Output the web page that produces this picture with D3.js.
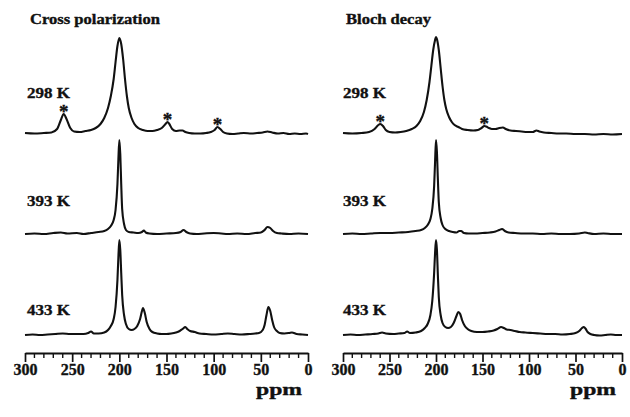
<!DOCTYPE html>
<html>
<head>
<meta charset="utf-8">
<script src="https://cdn.jsdelivr.net/npm/d3@7"></script>
<style>
  html, body { margin: 0; padding: 0; background: #fff; }
  svg { display: block; }
  text { font-family: "Liberation Serif", "Times New Roman", serif; font-weight: bold; fill: #111; stroke: #111; stroke-width: 0.35; }
</style>
</head>
<body>
<svg id="chart" width="630" height="417"></svg>
<script>
// ---- data -------------------------------------------------------------
const panelTitles = ["Cross polarization", "Bloch decay"];
const temperatures = ["298 K", "393 K", "433 K"];
const majorTicks = [300, 250, 200, 150, 100, 50, 0];
const minorTicks = [290, 280, 270, 260, 240, 230, 220, 210, 190, 180, 170, 160,
                    140, 130, 120, 110, 90, 80, 70, 60, 40, 30, 20, 10];

// [ppm, intensity] — cross polarization spectra
const cp298 = [[300,1],[290,0.5],[280,1],[272,1.5],[266,5],[262,14],[259,20],[256,15],[252,6],[248,2.5],
  [242,2],[236,3],[230,4],[225,6],[220,10],[216,16],[212,26],[209,38],[206,55],[204,72],[202,88],[200,96],
  [198,90],[196,75],[194,55],[192,38],[190,26],[187,16],[184,10],[180,6],[175,4],[170,3],[165,3],[160,4],
  [155,6],[151,10],[149,12],[147,10],[144,5],[140,3],[136,3.5],[133,3.5],[130,2],[126,1],[120,0.5],[114,0.5],
  [108,1],[103,2],[99,4],[96,7],[93,5],[90,2],[86,0.5],[80,0],[74,0.5],[68,1],[60,0.5],[54,1],[48,1.5],
  [43,2.5],[38,1.5],[32,0.5],[26,1],[20,0],[14,0.5],[8,0],[2,0.5],[0,0]];
const cp393 = [[300,0],[290,0.5],[280,0],[270,1],[262,1.5],[255,0.5],[245,1],[238,0],[230,1],[222,2],[216,3],
  [212,5],[209,8],[206,14],[204,24],[202,50],[201,75],[200,94],[199,80],[198,50],[197,25],[195,10],[193,4],
  [190,2],[185,1.5],[180,1],[176,2],[174,3.5],[172,1.5],[168,0.5],[160,0],[150,0.5],[140,1],[135,2],[132,4],
  [129,2],[125,0.5],[118,0],[110,0.5],[100,1],[92,0.5],[85,0],[75,0.5],[65,0],[56,1],[50,1.5],[46,4],[43,7],
  [40,6],[37,3],[33,1],[28,0.5],[20,0],[10,0.5],[0,0]];
const cp433 = [[300,0],[292,0.5],[284,0],[276,0.5],[268,1],[260,1.5],[252,1],[244,1],[238,1],[233,2],[230,3.5],
  [227,1.5],[222,1.5],[216,2.5],[212,5],[209,9],[206,16],[204,28],[202,55],[201,78],[200,95],[199,85],[198,62],
  [197,40],[195,20],[193,11],[190,6],[187,5],[184,6],[181,9],[178,16],[176,24],[175,27],[173,22],[171,13],
  [168,6],[165,3],[160,1.5],[155,1],[150,1],[145,1.5],[140,2.5],[136,4],[133,6],[130,8],[128,6],[125,4],
  [120,3],[115,1.5],[108,1],[100,0.5],[92,1],[85,1.5],[78,1],[70,0.5],[62,1],[56,1.5],[52,2],[48,5],[46,10],
  [44,20],[42,28],[40,24],[38,15],[36,8],[33,4],[30,2],[25,1.5],[20,2],[17,2.5],[12,1],[6,0.5],[0,0]];

// [ppm, intensity] — Bloch decay spectra
const bd298 = [[300,1],[290,0.5],[280,1],[272,2],[266,5],[262,9],[260,10],[257,8],[254,4],[250,2],[244,1.5],
  [238,2],[232,3],[226,5],[221,8],[217,13],[213,22],[210,34],[207,52],[205,68],[203,84],[201,94],[200,97],
  [199,95],[197,84],[195,66],[193,48],[191,34],[189,25],[186,17],[183,12],[180,9],[176,7],[172,5],[166,4],
  [160,3.5],[155,4],[151,6],[148,8],[146,7.5],[143,6],[140,5],[136,5],[132,6],[128,6.5],[125,5],[120,3.5],
  [114,3],[108,2.5],[102,2],[96,2],[92,3.5],[89,2.5],[84,1.5],[76,1],[68,0.5],[60,0.5],[50,0],[40,0],
  [30,-0.5],[20,0],[10,-0.5],[0,0]];
const bd393 = [[300,0],[290,0.5],[280,0],[270,0.5],[260,1],[250,1],[240,1.5],[230,2],[222,3],[216,4],[212,6],
  [209,9],[206,15],[204,25],[202,48],[201,72],[200,94],[199,82],[198,55],[197,32],[195,16],[193,9],[190,5],
  [186,3],[182,2],[178,1.5],[175,3],[173,3],[170,1],[165,0.5],[158,0.5],[150,1],[142,1.5],[136,2.5],[132,4],
  [129,5],[126,3],[122,1.5],[115,1],[106,0.5],[96,0.5],[86,0],[76,0.5],[66,0],[56,0],[46,0.5],[40,1.5],
  [37,1],[30,0],[20,0.5],[10,0],[0,0]];
const bd433 = [[300,0],[292,0.5],[284,0],[276,0.5],[268,1],[262,1.5],[258,2.5],[254,1.5],[246,1],[240,1.5],
  [234,2],[231,3.5],[228,2],[222,2.5],[216,4],[212,7],[209,11],[206,20],[204,34],[202,62],[201,82],[200,95],
  [199,85],[198,60],[197,38],[195,20],[193,12],[190,8],[187,7],[184,8],[181,12],[178,19],[176,23],[174,21],
  [172,15],[169,9],[166,6],[162,4],[156,3],[150,3],[144,3.5],[138,4.5],[134,6],[130,8],[127,7],[124,5.5],
  [120,5],[115,4],[110,3],[104,2.5],[96,2],[88,1.5],[80,1],[72,1],[64,0.5],[56,1],[50,2],[46,4],[43,7],
  [41,8],[39,6],[37,3],[34,1],[30,0],[24,-0.5],[18,0],[12,0.5],[6,0],[0,0]];

// spinning sidebands (ppm) marked with an asterisk on the 298 K traces
const cpSidebands = [259, 149, 96];
const bdSidebands = [260, 148];

// ---- layout -----------------------------------------------------------
const panels = [
  { title: panelTitles[0], x0: 25, x1: 308, labelX: 27, traces: [cp298, cp393, cp433], stars: cpSidebands },
  { title: panelTitles[1], x0: 343, x1: 622, labelX: 343, traces: [bd298, bd393, bd433], stars: bdSidebands }
];
const baselines = [134, 234, 335];
const tempLabelY = [98, 206, 315];
const axisY = 353;

const svg = d3.select("#chart");

panels.forEach(p => {
  const g = svg.append("g");
  const x = d3.scaleLinear().domain([300, 0]).range([p.x0, p.x1]);

  // title
  g.append("text")
    .attr("x", p.labelX + 3).attr("y", 24)
    .attr("font-size", 14)
    .attr("textLength", p === panels[0] ? 130 : 85)
    .attr("lengthAdjust", "spacingAndGlyphs")
    .text(p.title);

  p.traces.forEach((data, i) => {
    const y = d3.scaleLinear().domain([0, 100]).range([baselines[i], baselines[i] - 100]);
    const line = d3.line()
      .x(d => x(d[0]))
      .y(d => y(d[1]))
      .curve(d3.curveMonotoneX);
    g.append("path")
      .datum(data)
      .attr("d", line)
      .attr("fill", "none")
      .attr("stroke", "#111")
      .attr("stroke-width", 2.1)
      .attr("stroke-linejoin", "round");

    g.append("text")
      .attr("x", p.labelX).attr("y", tempLabelY[i])
      .attr("font-size", 15)
      .attr("textLength", 43)
      .attr("lengthAdjust", "spacingAndGlyphs")
      .text(temperatures[i]);

    if (i === 0) {
      p.stars.forEach(s => {
        const near = data.filter(d => Math.abs(d[0] - s) <= 4);
        const top = d3.max(near, d => d[1]);
        g.append("text")
          .attr("x", x(s)).attr("y", y(top) + 4)
          .attr("text-anchor", "middle")
          .attr("font-size", 19)
          .text("*");
      });
    }
  });

  // ppm axis: baseline rule with ticks hanging below
  const axis = d3.axisBottom(x).tickValues(majorTicks).tickSize(9).tickSizeOuter(0).tickPadding(2);
  const ag = g.append("g").attr("transform", `translate(0,${axisY})`).call(axis);
  ag.select(".domain").attr("stroke", "#111").attr("stroke-width", 2);
  ag.selectAll(".tick line").attr("stroke", "#111").attr("stroke-width", 1.7);
  ag.selectAll(".tick text")
    .attr("font-family", "Liberation Serif, serif")
    .attr("font-weight", "bold")
    .attr("font-size", 16)
    .attr("fill", "#111")
    .attr("stroke", "#111")
    .attr("stroke-width", 0.45);
  ag.selectAll(".minor")
    .data(minorTicks)
    .enter().append("line")
    .attr("x1", d => x(d)).attr("x2", d => x(d))
    .attr("y1", 0).attr("y2", 5)
    .attr("stroke", "#111").attr("stroke-width", 1.4);

  g.append("text")
    .attr("x", p.x1 - 29).attr("y", 395)
    .attr("text-anchor", "middle")
    .attr("font-size", 17)
    .attr("textLength", 46)
    .attr("lengthAdjust", "spacingAndGlyphs")
    .text("ppm");
});
</script>
</body>
</html>
